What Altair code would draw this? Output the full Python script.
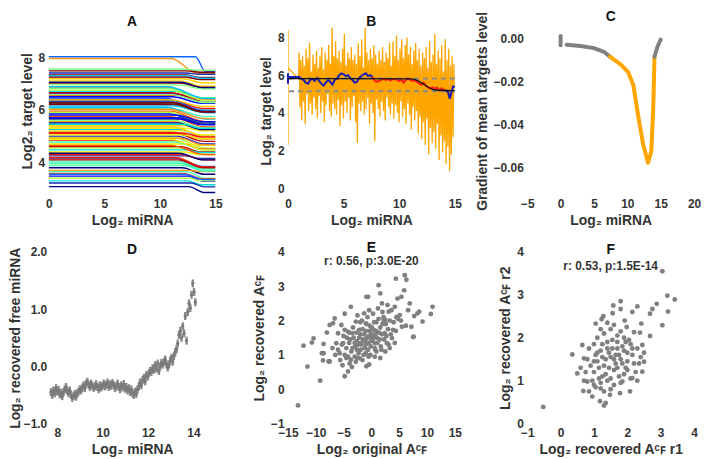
import altair as alt
import numpy as np
import pandas as pd

FONT = "Liberation Sans"
GRAY_TXT = "#333333"

# ---------------- Panel A : target level trajectories ----------------
A_start = [8.02, 7.95, 3.08, 7.55, 5.10, 6.30, 4.40, 7.02, 3.65, 5.85,
           6.55, 4.95, 3.30, 6.20, 5.40, 7.40, 4.15, 6.85, 5.65, 3.95,
           6.40, 5.25, 4.70, 7.25, 6.05, 3.48, 5.95, 4.55, 6.70, 5.15,
           7.10, 4.25, 6.35, 5.55, 3.80, 6.95, 4.85, 6.15, 5.30, 7.48,
           4.05, 6.60, 5.75, 3.40, 6.25, 4.60, 7.18, 5.00, 6.45, 3.70,
           5.50, 6.80, 4.30, 6.10, 5.20, 7.33, 4.78, 6.50, 3.58, 5.90,
           4.48, 6.65, 5.35, 3.22, 6.32, 4.92, 7.05, 5.60, 4.18, 6.88,
           5.05, 6.22, 3.88, 5.80, 4.65, 6.75, 5.45, 4.10, 6.38, 5.70,
           3.55, 6.02, 4.35, 6.58, 5.12, 7.30, 4.88, 6.28, 3.98, 5.68]
A_drop = [0.57, 0.57, 0.22, 0.05, 0.20, 0.30, 0.10, 0.15, 0.25, 0.35,
          0.20, 0.40, 0.15, 0.25, 0.10, 0.05, 0.30, 0.45, 0.20, 0.15,
          0.35, 0.25, 0.05, 0.10, 0.30, 0.20, 0.40, 0.15, 0.25, 0.35,
          0.20, 0.10, 0.45, 0.30, 0.25, 0.15, 0.35, 0.20, 0.10, 0.05,
          0.30, 0.25, 0.40, 0.10, 0.35, 0.20, 0.15, 0.30, 0.50, 0.05,
          0.25, 0.35, 0.20, 0.45, 0.15, 0.10, 0.30, 0.25, 0.20, 0.40,
          0.10, 0.30, 0.35, 0.15, 0.40, 0.25, 0.20, 0.30, 0.35, 0.45,
          0.15, 0.30, 0.20, 0.25, 0.35, 0.40, 0.15, 0.30, 0.25, 0.20,
          0.20, 0.35, 0.25, 0.30, 0.15, 0.10, 0.40, 0.35, 0.30, 0.25]
A_k1 = [13.2, 11.0, 12.6, 12.0, 11.5, 10.5, 12.2, 11.8, 12.4, 10.8,
        11.6, 11.2, 12.5, 10.9, 12.1, 12.3, 11.4, 10.6, 11.9, 12.0,
        10.7, 11.7, 12.4, 12.2, 11.0, 12.6, 10.9, 11.8, 11.3, 11.1,
        11.9, 12.3, 10.6, 11.4, 12.0, 11.6, 11.0, 11.2, 12.5, 12.4,
        11.7, 11.3, 10.8, 12.5, 10.7, 11.9, 12.1, 11.5, 10.4, 12.6,
        11.6, 10.8, 12.0, 10.5, 12.2, 12.3, 11.4, 11.1, 12.1, 10.9,
        12.2, 11.0, 11.2, 12.8, 10.6, 11.8, 11.9, 11.3, 11.5, 10.7,
        12.0, 11.2, 12.3, 11.5, 11.0, 10.9, 12.1, 11.6, 11.0, 11.7,
        12.2, 10.8, 11.7, 11.1, 12.0, 12.4, 10.9, 11.2, 11.9, 11.4]
A_k2 = [14.1, 13.4, 14.0, 13.5, 13.8, 13.9, 13.6, 13.7, 14.0, 13.8,
        13.9, 14.0, 13.8, 13.7, 13.9, 13.6, 13.9, 14.0, 13.8, 13.7,
        13.9, 13.8, 13.6, 13.7, 14.0, 13.9, 14.1, 13.7, 13.9, 14.0,
        13.8, 13.6, 14.0, 13.9, 14.0, 13.8, 13.9, 13.7, 13.8, 13.6,
        13.9, 14.0, 14.1, 13.8, 13.9, 13.7, 13.8, 14.0, 14.1, 13.7,
        13.8, 14.0, 13.9, 14.1, 13.7, 13.6, 13.9, 13.8, 13.9, 14.0,
        13.7, 13.9, 14.0, 14.0, 14.1, 13.9, 13.8, 14.0, 13.9, 14.1,
        13.8, 13.9, 13.8, 13.9, 14.0, 14.1, 13.7, 13.9, 13.8, 14.0,
        13.9, 14.0, 13.9, 14.0, 13.8, 13.7, 14.0, 13.9, 14.0, 13.9]
A_palette = ["#0a64ff", "#ff9a1a", "#00007f", "#7fff7f", "#ff1a00", "#00bfff",
             "#f0f000", "#7f0000", "#40ffbf", "#0000ff", "#ff5500", "#b5ff4a",
             "#00e0e0", "#c80000", "#ffd000", "#1a2ab0"]

# ---------------- Panel B ----------------
B_orange_head_x = [0.0, 0.0, 0.0, 0.95]
B_orange_head_y = [2.3, 8.4, 6.4, 5.8]
B_orange = [7.2, 4.3, 6.8, 3.6, 7.0, 4.6, 6.5, 3.4, 7.4, 5.0, 6.9, 4.1,
            7.7, 4.5, 6.2, 3.9, 7.1, 4.8, 6.6, 4.2, 7.3, 3.7, 6.4, 4.9,
            7.0, 4.0, 7.5, 4.6, 6.3, 3.5, 7.2, 4.4, 6.8, 5.0, 7.6, 4.1,
            6.6, 3.8, 8.7, 4.5, 7.0, 4.2, 7.8, 3.9, 6.9, 4.7, 7.3, 3.3,
            6.7, 4.4, 7.4, 3.7, 8.2, 4.6, 6.5, 4.0, 7.2, 4.8, 6.9, 3.6,
            7.5, 4.3, 6.8, 4.9, 7.1, 3.5, 6.6, 2.4, 7.7, 4.5, 7.0, 4.1,
            7.9, 4.6, 6.4, 3.9, 8.6, 4.2, 7.2, 4.8, 6.8, 3.4, 7.4, 4.5,
            6.9, 4.0, 7.6, 2.5, 7.1, 4.7, 6.6, 4.2, 7.3, 3.8, 6.8, 4.6,
            7.5, 4.1, 6.7, 3.6, 7.2, 4.8, 6.9, 4.3, 7.7, 3.9, 6.5, 4.5,
            7.8, 3.7, 7.0, 4.4, 8.1, 4.0, 6.8, 3.5, 7.4, 4.6, 7.9, 3.8,
            6.9, 4.2, 7.6, 3.4, 8.0, 4.5, 7.1, 3.9, 7.5, 3.1, 6.6, 4.3,
            7.3, 3.6, 7.7, 4.1, 6.8, 2.9, 7.4, 3.8, 6.5, 2.6, 7.2, 3.5,
            6.9, 2.3, 7.5, 3.7, 6.4, 1.8, 7.8, 3.2, 6.7, 2.4, 7.1, 3.0,
            8.2, 2.1, 6.6, 3.4, 7.3, 1.5, 6.9, 2.8, 7.6, 1.9, 6.2, 2.5,
            7.9, 1.3, 6.8, 2.2, 7.4, 0.9, 6.5, 1.8, 7.0, 2.7, 6.6, 5.4]
B_blue1_x = [0.0, 0.0, 0.0, 1.0, 1.2, 1.4, 1.6, 1.8, 2.0, 2.2, 2.4, 2.6, 2.8, 3.0, 3.2,
             3.4, 3.6, 3.8, 4.0, 4.2, 4.4, 4.6, 4.8, 5.0, 5.2, 5.4, 5.6, 5.8, 6.0,
             6.2, 6.4, 6.6, 6.8, 7.0, 7.2, 7.4, 7.6]
B_blue1_y = [5.55, 6.1, 5.9, 5.9, 5.8, 5.75, 5.6, 5.55, 5.75, 5.8, 5.7, 5.85, 5.7, 5.55, 5.45,
             5.6, 5.75, 5.65, 5.5, 5.75, 5.8, 6.0, 6.1, 6.05, 5.95, 6.0, 5.85, 5.75, 5.6,
             5.65, 5.85, 5.95, 6.05, 6.1, 5.95, 6.0, 5.9]
B_red_x = [7.6, 7.8, 8.0, 8.2, 8.4, 8.6, 8.8, 9.0, 9.2, 9.4, 9.6, 9.8, 10.0, 10.2, 10.4,
           10.6, 10.8, 11.0, 11.2, 11.4, 11.6, 11.8, 12.0, 12.2, 12.4, 12.6, 12.8, 13.0,
           13.2, 13.4, 13.6, 13.8, 14.0, 14.2]
B_red_y = [5.9, 5.7, 5.65, 5.7, 5.75, 5.8, 5.75, 5.8, 5.72, 5.78, 5.8, 5.75, 5.7, 5.75, 5.6,
           5.75, 5.8, 5.75, 5.7, 5.72, 5.65, 5.55, 5.5, 5.6, 5.45, 5.35, 5.3, 5.35,
           5.28, 5.35, 5.2, 5.3, 5.22, 5.2]
B_blue2_x = [14.2, 14.4, 14.55, 14.7, 14.85, 15.0]
B_blue2_y = [5.2, 5.1, 4.75, 5.1, 5.4, 5.35]
B_fit_x = [0.0, 11.0, 11.5, 12.0, 12.5, 13.0, 13.5, 15.0]
B_fit_y = [5.82, 5.8, 5.75, 5.6, 5.4, 5.25, 5.2, 5.18]
B_dash_levels = [5.82, 5.15]

# ---------------- Panel C ----------------
C_seg = ["g0", "g0", "g1", "g1", "g1", "g1", "g1",
         "o", "o", "o", "o", "o", "o", "o", "o", "o", "o", "o",
         "g2", "g2", "g2"]
C_x = [0.0, 0.0, 0.9, 3.0, 5.0, 6.5, 7.4,
       7.4, 8.3, 9.15, 10.1, 10.9, 11.6, 12.35, 13.1, 13.6, 13.9, 14.07,
       14.07, 14.5, 15.0]
C_y = [0.0012, -0.0032, -0.0029, -0.0035, -0.0045, -0.0062, -0.0085,
       -0.0085, -0.0105, -0.0125, -0.0155, -0.0217, -0.0355, -0.049, -0.0578, -0.0523, -0.031, -0.0085,
       -0.0085, -0.004, -0.0005]
C_seg_colors = {"g0": "#808080", "g1": "#808080", "o": "#ffa500", "g2": "#808080"}

# ---------------- Panel D ----------------
D_y = [-0.45, -0.50, -0.42, -0.47, -0.38, -0.44, -0.41, -0.49, -0.46, -0.52,
       -0.45, -0.40, -0.36, -0.43, -0.47, -0.42, -0.50, -0.55, -0.52, -0.48,
       -0.53, -0.47, -0.44, -0.40, -0.42, -0.37, -0.33, -0.38, -0.30, -0.27,
       -0.32, -0.36, -0.30, -0.34, -0.38, -0.35, -0.31, -0.36, -0.40, -0.33,
       -0.37, -0.34, -0.30, -0.35, -0.32, -0.28, -0.36, -0.31, -0.34, -0.29,
       -0.33, -0.38, -0.35, -0.30, -0.36, -0.40, -0.33, -0.37, -0.31, -0.39,
       -0.36, -0.42, -0.38, -0.45, -0.40, -0.47, -0.50, -0.44, -0.48, -0.40,
       -0.35, -0.28, -0.33, -0.24, -0.20, -0.26, -0.15, -0.18, -0.12, -0.08,
       -0.10, -0.03, -0.06, 0.02, -0.04, 0.05, -0.08, 0.00, 0.06, 0.03,
       0.08, 0.12, 0.04, -0.02, 0.03, 0.10, 0.15, 0.08, 0.18, 0.25,
       0.30, 0.40, 0.55, 0.62, 0.50, 0.70, 0.58, 0.88, 0.45, 0.95,
       1.10, 1.02, 1.25, 1.45, 1.30, 1.12]
D_err = 0.07

# ---------------- Panel E ----------------
E_x = [-13.2, -9.2, -11.5, -12.2, -10.4, -10.7, 6.0, 6.3, 4.4, 1.3, 11.0, 10.7, 9.2, 7.5,
       -0.9, -0.6, 1.6, -3.7, -4.8, -6.6, -7.5, -8.0, -8.6, -8.7, -7.5, -4.8, -4.2, -3.5,
       -0.9, -0.4, 1.6, 3.7, 3.9, 5.5, 6.9, 5.4, 5.9, 7.7, 8.6, 6.6, 7.2, 5.1, 3.1, 2.5,
       2.4, 0.7, 1.9, -6.9, -6.3, -5.7, -4.5, -4.2, -3.4, -2.8, -2.2, -1.9, -1.3, -1.0,
       -0.4, -0.1, 0.4, 0.7, 2.2, 2.8, 4.2, 4.7, 7.6, 8.3, -1.0, -2.5, -3.7, -5.1, -4.8,
       -5.4, -6.0, -8.6, -8.9, -7.7,
       -4.5, -4.0, -3.6, -3.2, -2.9, -2.6, -2.3, -2.0, -1.8, -1.5, -1.2, -1.0, -0.8, -0.5,
       -0.3, 0.0, 0.2, 0.5, 0.8, 1.0, 1.3, 1.6, 1.9, 2.2, 2.6, 3.0, 3.3, -4.8, -4.2, -3.8,
       -3.4, -3.0, -2.7, -2.4, -2.1, -1.9, -1.6, -1.4, -1.1, -0.9, -0.6, -0.4, -0.1, 0.1,
       0.4, 0.6, 0.9, 1.1, 1.4, 1.7, 2.0, 2.3, 2.7, 3.1, 3.5, 4.0, 4.4, 4.8, -5.3, -5.0,
       -6.0, -5.6, -6.5, -7.0, -2.5, -1.7, -0.7, 0.3, 1.2, 2.0, 2.9, 3.6, 4.5, 5.3, 6.2,
       -3.3, -4.0, -2.0, -1.3, -0.2, 0.6, -3.9, -2.8, -1.6, -0.5, -5.2, 0.9, 1.8, 2.5,
       3.3, 4.2, -2.2, -1.0, 0.0, -3.0, -4.4, 1.5, -0.3, 0.7, -2.6]
E_y = [-0.47, 0.25, 0.66, 1.27, 1.48, 1.36, 3.32, 3.19, 3.22, 3.03, 2.40, 2.19, 1.97, 1.52,
       2.69, 2.69, 2.79, 2.40, 2.20, 2.06, 1.87, 1.65, 1.05, 0.84, 0.81, 0.38, 0.52, 0.65,
       0.67, 0.72, 0.91, 1.49, 1.73, 1.82, 2.50, 2.69, 2.88, 2.13, 2.26, 2.30, 1.82, 2.16, 2.26, 2.02,
       1.63, 1.34, 2.50, 1.92, 1.34, 1.05, 0.91, 1.68, 1.63, 1.97, 1.73, 1.34, 2.21, 1.92,
       2.30, 1.53, 1.73, 1.15, 2.02, 1.34, 2.40, 2.64, 1.53, 2.21, 1.05, 0.91, 0.86, 1.34, 1.73,
       1.87, 1.63, 1.32, 1.05, 0.81,
       1.20, 1.35, 1.10, 1.50, 1.25, 1.40, 1.05, 1.60, 1.30, 1.45, 1.20, 1.70, 1.50, 1.35,
       1.85, 1.60, 1.40, 1.95, 1.70, 1.50, 2.05, 1.80, 1.60, 2.10, 1.90, 1.75, 2.00, 1.00, 0.95, 1.45,
       1.20, 0.95, 1.65, 1.30, 0.90, 1.15, 1.75, 1.00, 1.40, 1.90, 1.15, 1.55, 1.25, 1.80,
       1.50, 1.20, 1.95, 1.35, 1.65, 1.25, 1.90, 1.45, 1.55, 1.30, 1.60, 1.95, 1.70, 2.05, 1.30, 1.55,
       1.15, 0.85, 1.00, 1.20, 2.15, 2.00, 2.10, 2.20, 2.35, 2.25, 2.45, 2.30, 2.10, 2.00, 1.85,
       1.80, 1.65, 1.95, 1.60, 1.00, 0.95, 0.75, 0.80, 0.85, 0.95, 0.70, 1.10, 1.15, 1.10,
       1.20, 1.35, 1.50, 1.30, 1.45, 1.35, 1.50, 1.45, 1.70, 1.60, 1.15]

# ---------------- Panel F ----------------
F_x = [-0.52, 3.05, 3.20, 3.42, 3.22, 3.05, 2.88, 2.75, 2.68, 2.30, 1.80, 1.58, 1.56, 1.80,
       2.15, 1.28, 1.23, 1.05, 1.92, 1.98, 2.42, 2.20, 2.38, 2.68, 0.35, 0.65, 0.70, 0.50,
       0.68, 0.85, 0.95, 1.18, 1.30, 1.35, 1.48, 1.78, 2.08, 1.85, 2.15, 2.45, 2.50, 2.35,
       2.45, 1.00, 1.20, 0.80,
       1.00, 1.10, 1.20, 1.30, 1.40, 1.50, 1.60, 1.70, 1.80, 1.90, 2.00, 2.10, 2.20, 1.05,
       1.15, 1.25, 1.35, 1.45, 1.55, 1.65, 1.75, 1.85, 1.95, 2.05, 2.15, 0.90, 0.95, 0.80,
       0.75, 1.30, 1.50, 1.70, 1.90, 2.00, 1.20, 1.40, 1.60, 1.80, 2.30, 2.40, 2.25, 1.00,
       1.10, 0.85, 1.55, 1.75, 1.45, 1.25, 1.65, 1.85, 2.00, 1.35, 1.15, 1.05, 1.70, 1.90,
       2.10, 1.60, 1.40, 1.20, 0.70, 0.60, 2.30, 2.50, 1.30, 1.50, 1.95, 1.80, 1.00, 1.40,
       1.60, 1.50, 1.25, 2.15, 1.70, 1.10]
F_y = [0.39, 3.55, 2.98, 2.89, 2.61, 2.29, 2.79, 2.67, 2.56, 2.73, 2.85, 2.75, 2.57, 2.67,
       2.60, 2.50, 2.43, 2.33, 2.40, 2.25, 2.33, 2.13, 2.12, 2.04, 1.61, 1.83, 1.52, 1.17,
       0.76, 0.75, 0.63, 0.52, 0.42, 0.48, 0.67, 0.71, 0.75, 0.98, 1.06, 1.21, 1.44, 1.40,
       1.83, 0.90, 0.82, 0.98,
       1.20, 1.45, 1.70, 1.35, 1.90, 1.55, 1.25, 1.75, 1.50, 2.00, 1.65, 1.85, 1.40, 1.60,
       1.05, 1.55, 1.15, 1.65, 1.95, 1.40, 1.10, 1.80, 1.30, 1.95, 1.60, 1.35, 1.00, 1.50,
       1.20, 2.10, 2.20, 2.05, 1.15, 1.25, 0.95, 1.00, 0.90, 0.95, 1.75, 1.55, 1.20, 1.85,
       2.00, 1.75, 1.75, 1.60, 1.30, 1.85, 1.60, 1.40, 1.45, 1.50, 1.30, 0.85, 1.30, 1.70,
       1.05, 2.30, 2.35, 2.20, 1.00, 1.30, 1.00, 1.65, 0.75, 0.80, 1.90, 2.15, 1.45, 1.75,
       1.50, 1.05, 1.10, 1.75, 1.90, 1.65]

# =============== build tables ===============
rowsA = []
for i, (s, d, k1, k2) in enumerate(zip(A_start, A_drop, A_k1, A_k2)):
    for o, (x, y) in enumerate([(0.0, s), (k1, s), (k2, s - d), (15.0, s - d)]):
        rowsA.append({"lid": f"L{i:03d}", "x": x, "y": y, "o": o,
                      "col": A_palette[i % len(A_palette)]})
dfA = pd.DataFrame(rowsA)

bx = B_orange_head_x + list(np.linspace(1.0, 15.0, len(B_orange)))
by = B_orange_head_y + B_orange
dfB_or = pd.DataFrame({"x": bx, "y": by, "o": range(len(bx))})
dfB_blue = pd.DataFrame({"x": B_blue1_x + B_blue2_x, "y": B_blue1_y + B_blue2_y,
                         "seg": ["b1"] * len(B_blue1_x) + ["b2"] * len(B_blue2_x)})
dfB_blue["o"] = range(len(dfB_blue))
dfB_red = pd.DataFrame({"x": B_red_x, "y": B_red_y})
dfB_fit = pd.DataFrame({"x": B_fit_x, "y": B_fit_y})
dfB_dash = pd.DataFrame({"y": B_dash_levels})

dfC = pd.DataFrame({"x": C_x, "y": C_y, "seg": C_seg, "o": range(len(C_x)),
                    "col": [C_seg_colors[s] for s in C_seg]})
dfD = pd.DataFrame({"x": np.linspace(7.72, 14.08, len(D_y)), "y": D_y})
dfD["lo"] = dfD["y"] - D_err
dfD["hi"] = dfD["y"] + D_err
dfE = pd.DataFrame({"x": E_x[:len(E_y)], "y": E_y[:len(E_x)]})
dfF = pd.DataFrame({"x": F_x[:len(F_y)], "y": F_y[:len(F_x)]})

W = 168
H_TOP = 168
H_BOT = 173


def xq(domain, values, title, fmt=None, **extra):
    kw = dict(values=values, title=title)
    kw.update(extra)
    if fmt:
        kw["format"] = fmt
    return alt.X("x:Q", scale=alt.Scale(domain=domain, nice=False, zero=False), axis=alt.Axis(**kw))


def yq(domain, values, title, fmt=None, field="y:Q", **extra):
    kw = dict(values=values, title=title)
    kw.update(extra)
    if fmt:
        kw["format"] = fmt
    return alt.Y(field, scale=alt.Scale(domain=domain, nice=False, zero=False), axis=alt.Axis(**kw))


def ttl(text, offset, subtitle=None, pad=None):
    kw = dict(text=text, offset=offset, frame="group")
    if subtitle:
        kw["subtitle"] = subtitle
    if pad is not None:
        kw["subtitlePadding"] = pad
    return alt.TitleParams(**kw)


LOG2 = "Log\u2082"
AFC = "A\u1D9C\uA730"

# ---- A
chartA = alt.Chart(dfA).mark_line(strokeWidth=1.4, interpolate="monotone", clip=True).encode(
    x=xq([0, 15], [0, 5, 10, 15], f"{LOG2} miRNA"),
    y=yq([2.79, 9.13], [4, 6, 8], "Log2\u2082 target level"),
    color=alt.Color("col:N", scale=None),
    detail="lid:N",
    order="o:Q",
).properties(width=W, height=H_TOP, title=ttl("A", -2))

# ---- B
bx_enc = xq([0, 15], [0, 5, 10, 15], f"{LOG2} miRNA")
by_enc = yq([-0.32, 8.53], [0, 2, 4, 6, 8], f"{LOG2} target level")
B_or = alt.Chart(dfB_or).mark_line(color="#ffa500", strokeWidth=1.3, clip=True).encode(
    x=bx_enc, y=by_enc, order="o:Q")
B_dash = alt.Chart(dfB_dash).mark_rule(color="#8c8c8c", strokeWidth=2, strokeDash=[5, 4]).encode(
    y=alt.Y("y:Q"))
B_blue = alt.Chart(dfB_blue).mark_line(strokeWidth=2, color="#1a1ab4").encode(
    x="x:Q", y="y:Q", order="o:Q", detail="seg:N")
B_red = alt.Chart(dfB_red).mark_line(strokeWidth=2, color="#ff1a1a").encode(x="x:Q", y="y:Q")
B_fit = alt.Chart(dfB_fit).mark_line(color="#111111", strokeWidth=1.3, interpolate="monotone").encode(
    x="x:Q", y="y:Q")
chartB = alt.layer(B_or, B_dash, B_blue, B_red, B_fit).properties(
    width=W, height=H_TOP, title=ttl("B", -1))

# ---- C
chartC = alt.Chart(dfC).mark_line(strokeWidth=4, strokeCap="round", strokeJoin="round").encode(
    x=xq([-5, 20], [-5, 0, 5, 10, 15, 20], f"{LOG2} miRNA"),
    y=yq([-0.0725, 0.0051], [0.0, -0.02, -0.04, -0.06], "Gradient of mean targets level", fmt=".2f"),
    color=alt.Color("col:N", scale=None),
    detail="seg:N",
    order="o:Q",
).properties(width=W, height=H_TOP, title=ttl("C", -13))

# ---- D
dx = xq([7.62, 14.97], [8, 10, 12, 14], f"{LOG2} miRNA")
D_err_rule = alt.Chart(dfD).mark_rule(color="#8a8a8a", strokeWidth=2.4).encode(
    x=dx, y=yq([-1.0, 2.0], [-1.0, -0.5, 0.0, 0.5, 1.0, 1.5, 2.0], f"{LOG2} recovered free miRNA",
               fmt=".1f", field="lo:Q", titlePadding=1, labelPadding=2),
    y2="hi:Q")
D_pts = alt.Chart(dfD).mark_circle(color="#7a7a7a", size=12, opacity=1).encode(x="x:Q", y="y:Q")
chartD = alt.layer(D_err_rule, D_pts).properties(width=W, height=H_BOT, title=ttl("D", -11))

# ---- E
chartE = alt.Chart(dfE).mark_circle(color="#808080", size=24, opacity=1).encode(
    x=xq([-15, 15], [-15, -10, -5, 0, 5, 10, 15], f"{LOG2} original {AFC}", labelOverlap=False),
    y=yq([-1, 4], [-1, 0, 1, 2, 3, 4], f"{LOG2} recovered {AFC}"),
).properties(width=W, height=H_BOT, title=ttl("E", -21, "r: 0.56, p:3.0E-20", 1))

# ---- F
chartF = alt.Chart(dfF).mark_circle(color="#808080", size=24, opacity=1).encode(
    x=xq([-1, 4], [-1, 0, 1, 2, 3, 4], f"{LOG2} recovered {AFC} r1"),
    y=yq([0, 4], [0, 1, 2, 3, 4], f"{LOG2} recovered {AFC} r2"),
).properties(width=W, height=H_BOT, title=ttl("F", -26, "r: 0.53, p:1.5E-14", 4))

chart = alt.concat(chartA, chartB, chartC, chartD, chartE, chartF, columns=3,
                   spacing={"row": 58, "column": 73}, bounds="flush").properties(
    padding={"left": 0, "top": 0, "right": 0, "bottom": 2}
).resolve_scale(color="independent").configure_view(stroke=None).configure_axis(
    domain=False, ticks=False, grid=False, labelFlush=False,
    labelFont=FONT, labelFontSize=12, labelFontWeight="bold", labelColor=GRAY_TXT, labelPadding=4,
    titleFont=FONT, titleFontSize=14, titleFontWeight="bold", titleColor=GRAY_TXT, titlePadding=4,
).configure_title(
    font=FONT, fontSize=14, fontWeight="bold", color="#111111", anchor="middle",
    subtitleFont=FONT, subtitleFontSize=12, subtitleFontWeight="bold", subtitleColor=GRAY_TXT,
)

chart.save("out.html", embed_options={"renderer": "svg", "actions": False})
